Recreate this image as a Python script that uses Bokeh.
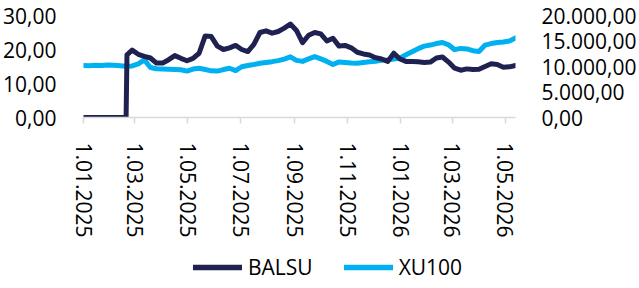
import math
import pandas as pd
from bokeh.plotting import figure
from bokeh.layouts import column
from bokeh.models import Range1d, LinearAxis, FixedTicker, Legend, LegendItem
from bokeh.embed import file_html
from bokeh.resources import INLINE

# ---------------- data ----------------
start_date = "2025-01-01"
week_dates = pd.date_range(start_date, periods=72, freq="7D")

# BALSU: zero before listing, listing-day price, then weekly closes
balsu_pre = [0.0, 0.0, 0.0, 0.0, 0.0, 0.0, 0.0, 0.0]
balsu_listing_date = "2025-02-20"
balsu_listing_price = 18.4
balsu_weekly = [19.8, 18.6, 18.0, 17.5, 16.0, 16.0, 17.0, 18.2, 17.4, 16.7, 17.4, 18.9,
                24.0, 23.8, 21.0, 20.0, 20.5, 21.2, 20.0, 19.4, 21.5, 25.0, 25.5, 24.8,
                25.3, 26.3, 27.5, 25.6, 22.0, 24.2, 25.0, 24.6, 22.5, 23.3, 21.0, 21.2,
                20.5, 19.2, 18.7, 18.4, 17.6, 17.2, 16.5, 18.9, 17.2, 16.5, 16.5, 16.4,
                16.2, 16.3, 17.5, 17.8, 16.3, 14.5, 13.9, 14.3, 14.1, 14.2, 15.0, 15.8,
                15.6, 14.8, 14.9, 15.3]

xu100 = [10210, 10150, 10250, 10200, 10300, 10250, 10150, 10050,
         10100, 10500, 11300, 9800, 9550, 9500, 9450, 9400,
         9350, 9100, 9500, 9650, 9400, 9150, 9100, 9400,
         9650, 9200, 9950, 10200, 10400, 10650, 10800, 10950,
         11150, 11450, 11900, 11200, 11000, 11500, 11950, 11500,
         11000, 10400, 10900, 10800, 10700, 10650, 10800, 10950,
         11050, 11200, 11300, 11450, 11650, 12300, 12900, 13500,
         14000, 14200, 14500, 14700, 14250, 13300, 13550, 13450,
         13100, 12950, 14200, 14500, 14700, 14800, 15000, 15600]

x_tick_dates = ["2025-01-01", "2025-03-01", "2025-05-01", "2025-07-01", "2025-09-01",
                "2025-11-01", "2026-01-01", "2026-03-01", "2026-05-01"]
x_tick_labels = ["1.01.2025", "1.03.2025", "1.05.2025", "1.07.2025", "1.09.2025",
                 "1.11.2025", "1.01.2026", "1.03.2026", "1.05.2026"]
x_end_date = "2026-05-13"

left_ticks = [0, 10, 20, 30]
left_labels = ["0,00", "10,00", "20,00", "30,00"]
right_ticks = [0, 5000, 10000, 15000, 20000]
right_labels = ["0,00", "5.000,00", "10.000,00", "15.000,00", "20.000,00"]

series_names = ["BALSU", "XU100"]
colors = ["#1f2251", "#00b0f0"]

# ---------------- helpers ----------------
t0 = pd.Timestamp(start_date)


def day(d):
    return (pd.Timestamp(d) - t0).days


xu_x = [day(d) for d in week_dates]
balsu_x = [day(d) for d in week_dates[:8]] + [day(balsu_listing_date)] + [day(d) for d in week_dates[8:]]
balsu_y = balsu_pre + [balsu_listing_price] + balsu_weekly

FONT = "Open Sans"
FS = "21px"
TXT = "#000000"
GRAY = "#d9d9d9"
W = 639
H_MAIN = 245
H_LEG = 43
FRAME_LEFT = 83

p = figure(width=W, height=H_MAIN, output_backend="svg", toolbar_location=None,
           x_range=Range1d(0, day(x_end_date)), y_range=Range1d(0, 30),
           min_border_left=FRAME_LEFT, min_border_right=118, min_border_top=15,
           min_border_bottom=H_MAIN - 117)
p.title.visible = False
p.extra_y_ranges = {"xu": Range1d(0, 20000)}
p.outline_line_color = None
p.xgrid.visible = False
p.ygrid.visible = False
p.background_fill_color = "white"
p.border_fill_color = "white"

r_xu = p.line(xu_x, xu100, y_range_name="xu", line_color=colors[1], line_width=5,
              line_join="round", line_cap="round")
r_b = p.line(balsu_x, balsu_y, line_color=colors[0], line_width=5,
             line_join="round", line_cap="round")

# x axis
xa = p.xaxis[0]
tick_days = [day(d) for d in x_tick_dates]
xa.ticker = FixedTicker(ticks=tick_days)
xa.major_label_overrides = {d: lab for d, lab in zip(tick_days, x_tick_labels)}
xa.major_label_orientation = -math.pi / 2
xa.axis_line_color = GRAY
xa.axis_line_width = 1.5
xa.major_tick_line_color = GRAY
xa.major_tick_line_width = 1.5
xa.major_tick_out = 6
xa.major_tick_in = 0
xa.minor_tick_line_color = None
xa.major_label_standoff = 19
xa.major_label_text_font = FONT
xa.major_label_text_font_size = FS
xa.major_label_text_color = TXT

# left axis
ya = p.yaxis[0]
ya.ticker = FixedTicker(ticks=left_ticks)
ya.major_label_overrides = {t: lab for t, lab in zip(left_ticks, left_labels)}
ya.axis_line_color = None
ya.major_tick_line_color = None
ya.minor_tick_line_color = None
ya.major_label_standoff = 21
ya.major_label_text_font = FONT
ya.major_label_text_font_size = FS
ya.major_label_text_color = TXT

# right axis
ra = LinearAxis(y_range_name="xu", ticker=FixedTicker(ticks=right_ticks))
ra.major_label_overrides = {t: lab for t, lab in zip(right_ticks, right_labels)}
ra.axis_line_color = None
ra.major_tick_line_color = None
ra.minor_tick_line_color = None
ra.major_label_standoff = 20
ra.major_label_text_font = FONT
ra.major_label_text_font_size = FS
ra.major_label_text_color = TXT
p.add_layout(ra, "right")

# legend strip below the chart (its frame is aligned with the chart frame)
p2 = figure(width=W, height=H_LEG, output_backend="svg", toolbar_location=None,
            x_range=Range1d(0, 1), y_range=Range1d(0, 1),
            x_axis_location=None, y_axis_location=None,
            min_border_left=0, min_border_right=0, min_border_top=0, min_border_bottom=0)
p2.title.visible = False
p2.outline_line_color = None
p2.xgrid.visible = False
p2.ygrid.visible = False
# legend proxies: placed outside the visible range so only their legend glyphs show
lb = p2.line([5, 6], [5, 6], line_color=colors[0], line_width=5.5, line_cap="round")
lx = p2.line([5, 6], [5, 6], line_color=colors[1], line_width=5.5, line_cap="round")

legend = Legend(items=[LegendItem(label=series_names[0], renderers=[lb]),
                       LegendItem(label=series_names[1], renderers=[lx])],
                orientation="horizontal", location=(193 - FRAME_LEFT, 7),
                glyph_width=49, glyph_height=24, label_height=24,
                label_standoff=6, spacing=31, padding=0, margin=0,
                border_line_color=None, background_fill_alpha=0,
                label_text_font=FONT, label_text_font_size=FS, label_text_color=TXT)
p2.add_layout(legend)

layout = column(p, p2, spacing=0)
open("out.html", "w").write(file_html(layout, INLINE))
